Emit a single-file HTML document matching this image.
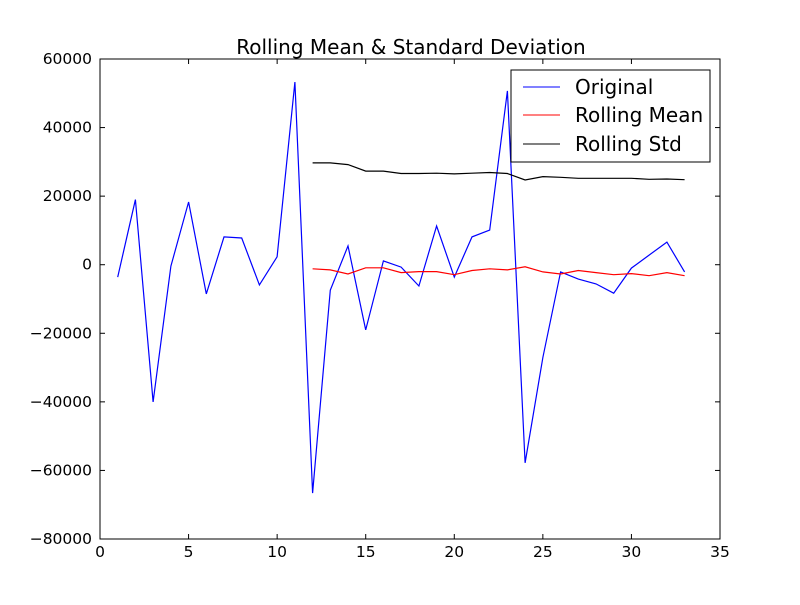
<!DOCTYPE html>
<html><head><meta charset="utf-8"><style>
body{margin:0;background:#fff;}
svg{font-family:"DejaVu Sans","Liberation Sans",sans-serif;}
</style></head><body>
<svg id="chart" width="800" height="600" xmlns="http://www.w3.org/2000/svg">
<rect width="800" height="600" fill="#fff"/>
<text x="411" y="54" font-size="20" text-anchor="middle">Rolling Mean &amp; Standard Deviation</text>
<g id="plot"></g>
<rect x="100" y="59" width="620" height="480" fill="none" stroke="#000" stroke-width="1"/>
<g>
<rect x="511" y="70" width="199" height="92" fill="#fff" stroke="#000"/>
<line x1="523" y1="87" x2="560" y2="87" stroke="#00f"/>
<text x="575" y="94" font-size="20">Original</text>
<line x1="523" y1="115" x2="560" y2="115" stroke="#f00"/>
<text x="575" y="122" font-size="20">Rolling Mean</text>
<line x1="523" y1="144" x2="560" y2="144" stroke="#000"/>
<text x="575" y="151" font-size="20">Rolling Std</text>
</g>
</svg>
<script>
const original = [-3600,19000,-40000,-400,18300,-8500,8100,7800,-5900,2300,53300,-66600,-7400,5500,-19000,1100,-700,-6200,11300,-3600,8100,10100,50700,-57800,-27000,-2100,-4200,-5600,-8300,-1000,2800,6600,-2100];
const rollingMean = [-1200,-1500,-2700,-900,-900,-2300,-2000,-2000,-2900,-1700,-1200,-1500,-600,-2100,-2700,-1700,-2300,-2900,-2600,-3200,-2300,-3200];
const rollingStd = [29700,29700,29200,27300,27300,26600,26600,26700,26500,26700,26900,26600,24700,25700,25500,25200,25200,25200,25200,24900,25000,24800];
const xTicks = [0,5,10,15,20,25,30,35];
const yTicks = [-80000,-60000,-40000,-20000,0,20000,40000,60000];
const X0=100,X1=720,Y0=539,Y1=59;
const sx=v=>X0+(v-0)/35*(X1-X0);
const sy=v=>Y0-(v+80000)/140000*(Y0-Y1);
const NS="http://www.w3.org/2000/svg";
const g=document.getElementById('plot');
function mk(t,a){const e=document.createElementNS(NS,t);for(const k in a)e.setAttribute(k,a[k]);g.appendChild(e);return e;}
function line(vals,start,color,name){
  const pts=vals.map((v,i)=>sx(start+i).toFixed(1)+','+sy(v).toFixed(1)).join(' ');
  const e=mk('polyline',{points:pts,fill:'none',stroke:color,'stroke-width':1.2});
  
  
}
line(original,1,'#00f','original-line');
line(rollingMean,12,'#f00','rolling-mean-line');
line(rollingStd,12,'#000','rolling-std-line');
xTicks.forEach(t=>{
  const x=sx(t);
  mk('line',{x1:x,y1:Y0,x2:x,y2:Y0-5,stroke:'#000'});
  mk('line',{x1:x,y1:Y1,x2:x,y2:Y1+5,stroke:'#000'});
  const e=mk('text',{x:x,y:Y0+18,'font-size':15.5,'text-anchor':'middle'});
  e.textContent=t;
  
  
});
yTicks.forEach(t=>{
  const y=sy(t);
  mk('line',{x1:X0,y1:y,x2:X0+5,y2:y,stroke:'#000'});
  mk('line',{x1:X1,y1:y,x2:X1-5,y2:y,stroke:'#000'});
  const e=mk('text',{x:X0-8,y:y+5,'font-size':15.5,'text-anchor':'end'});
  e.textContent=(t<0?'\u2212'+(-t):t);
  
  
});
</script>
</body></html>
